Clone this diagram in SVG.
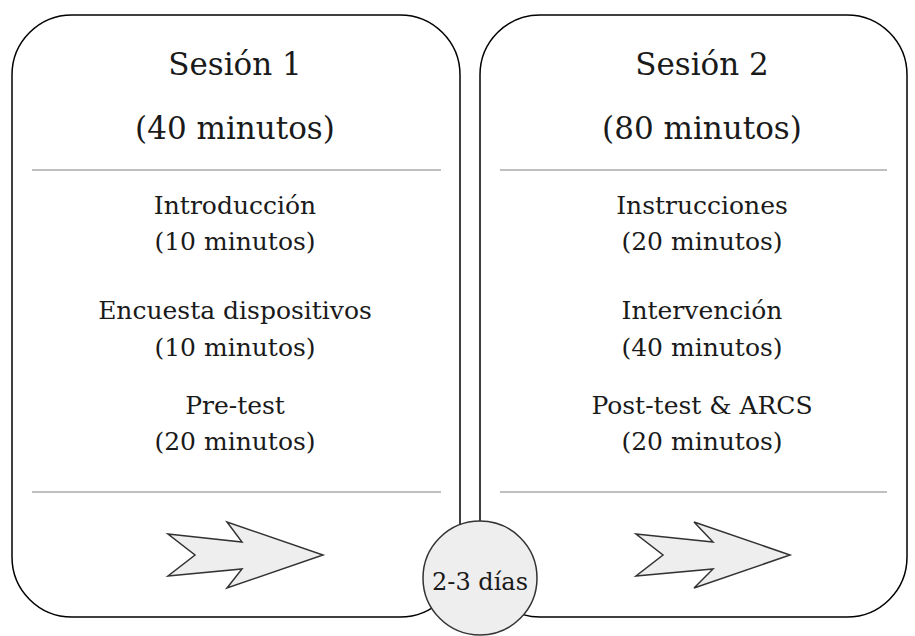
<svg xmlns="http://www.w3.org/2000/svg" width="915" height="636" viewBox="0 0 915 636">
  <style>
    .box { fill: #ffffff; stroke: #000000; stroke-width: 1.5; }
    .sep { stroke: #808080; stroke-width: 1.2; fill: none; }
    .arrow { fill: #eeeeee; stroke: #333333; stroke-width: 1.5; stroke-linejoin: miter; }
    text { font-family: "DejaVu Serif", "Liberation Serif", serif; fill: #1a1a1a; text-anchor: middle; }
    .title { font-size: 31px; }
    .body { font-size: 25px; }
    .gap { fill: #eeeeee; stroke: #333333; stroke-width: 1.5; }
    .gaplabel { font-size: 24px; }
  </style>

  <!-- Session 1 card -->
  <g id="session1">
    <rect class="box" x="12" y="15" width="448" height="602" rx="60" ry="60"/>
    <text class="title" x="235" y="75">Sesión 1</text>
    <text class="title" x="235" y="139">(40 minutos)</text>
    <line class="sep" x1="32" y1="170" x2="441" y2="170"/>
    <text class="body" x="235" y="214">Introducción</text>
    <text class="body" x="235" y="250">(10 minutos)</text>
    <text class="body" x="235" y="319">Encuesta dispositivos</text>
    <text class="body" x="235" y="356">(10 minutos)</text>
    <text class="body" x="235" y="414">Pre-test</text>
    <text class="body" x="235" y="450">(20 minutos)</text>
    <line class="sep" x1="32" y1="492" x2="441" y2="492"/>
    <polygon class="arrow" points="168,534 242,542 227,522 323,555 227,588 242,569 168,576 195,555"/>
  </g>

  <!-- Session 2 card -->
  <g id="session2">
    <rect class="box" x="480" y="15" width="427" height="602" rx="60" ry="60"/>
    <text class="title" x="702" y="75">Sesión 2</text>
    <text class="title" x="702" y="139">(80 minutos)</text>
    <line class="sep" x1="500" y1="170" x2="887" y2="170"/>
    <text class="body" x="702" y="214">Instrucciones</text>
    <text class="body" x="702" y="250">(20 minutos)</text>
    <text class="body" x="702" y="319">Intervención</text>
    <text class="body" x="702" y="356">(40 minutos)</text>
    <text class="body" x="702" y="414">Post-test &amp; ARCS</text>
    <text class="body" x="702" y="450">(20 minutos)</text>
    <line class="sep" x1="500" y1="492" x2="887" y2="492"/>
    <polygon class="arrow" points="636,534 713,542 694,522 790,555 694,588 713,569 636,576 663,555"/>
  </g>

  <!-- Interval between sessions -->
  <g id="interval">
    <circle class="gap" cx="480" cy="578" r="57"/>
    <text class="gaplabel" x="480" y="590">2-3 días</text>
  </g>
</svg>
